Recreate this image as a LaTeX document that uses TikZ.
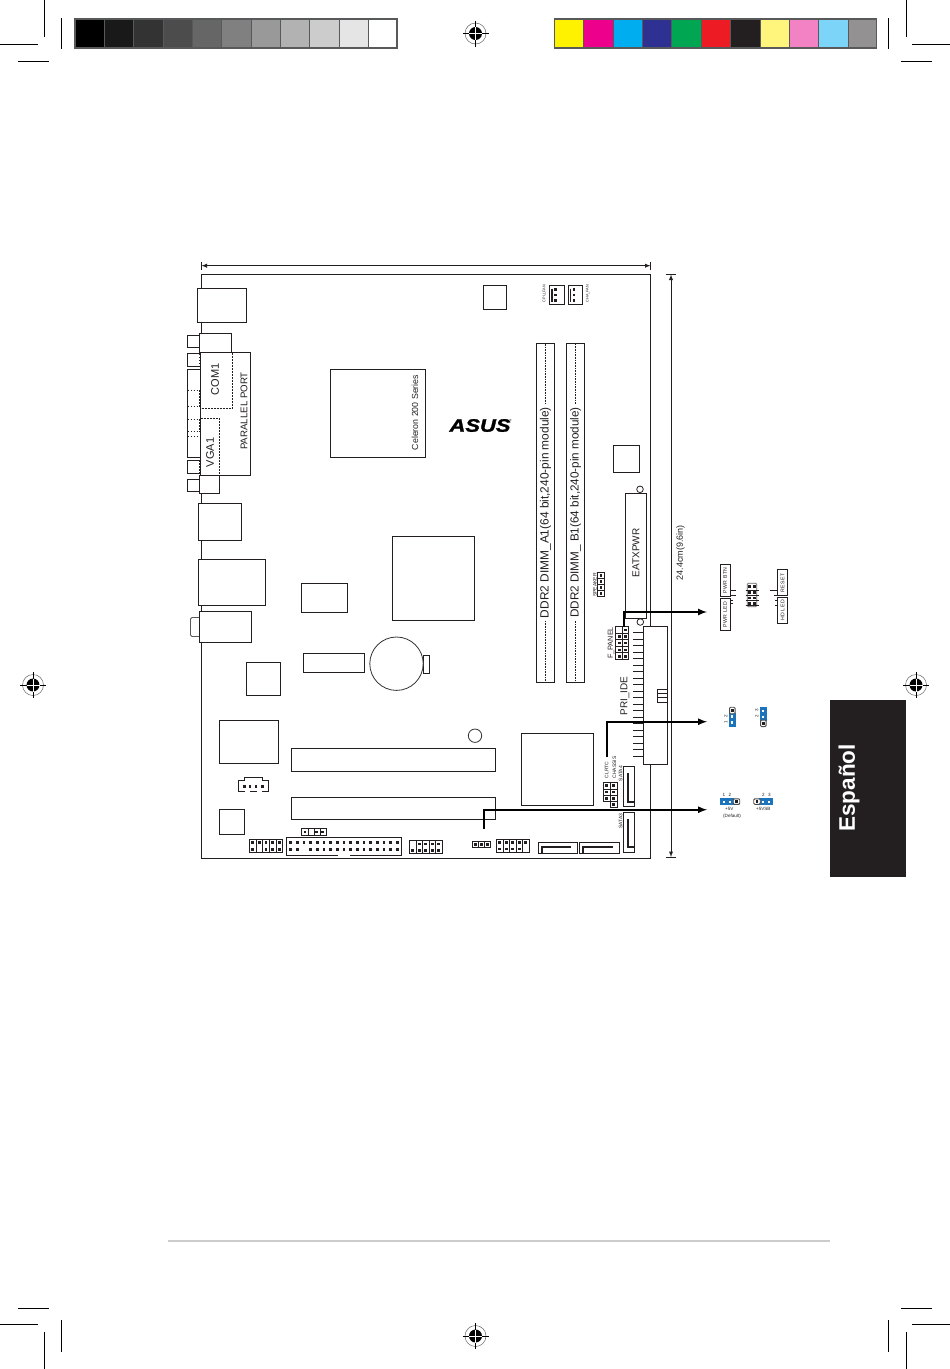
\documentclass[tikz,border=0pt]{standalone}
\usepackage{fontspec}
\setmainfont{Liberation Sans}
\usepackage{xcolor}
\usepackage{tikz}
\usetikzlibrary{arrows}
\usetikzlibrary{calc}

\definecolor{ink}{HTML}{231F20}
\definecolor{jumperblue}{HTML}{1C75BC}
\definecolor{barframe}{HTML}{58595B}

\newcommand{\sz}[1]{\fontsize{#1}{#1}\selectfont}
\newcommand{\pinat}[2]{\fill[ink] (#1-1.4,#2-1.4) rectangle ++(2.8,2.8);}
\newcommand{\wpinat}[2]{\fill[white] (#1-1.1,#2-1.1) rectangle ++(2.2,2.2);}

\begin{document}
\begin{tikzpicture}[x=1pt,y=-1pt,color=ink]
    \tikzstyle{every path}=[line width=1pt]
    \tikzstyle{chip}=[draw=ink,fill=white,line width=1pt,inner sep=0,outer sep=0]
    \tikzstyle{boardtext}=[inner sep=0,outer sep=0,rotate=90,text=ink]
    \tikzstyle{flat}=[inner sep=0,outer sep=0,text=ink]
    \tikzstyle{dashpart}=[line width=0.8pt,dash pattern=on 1.6pt off 1.4pt]
    \tikzstyle{dotline}=[line width=0.6pt,dash pattern=on 1pt off 0.6pt]
    \tikzstyle{leader}=[-latex,line width=2pt,black]
    \tikzstyle{dimline}=[latex-latex,line width=0.9pt]
    \tikzstyle{jumper}=[fill=jumperblue,inner sep=0,outer sep=0]
    \tikzstyle{openpin}=[draw=black!70,fill=white,line width=0.9pt,rounded corners=1pt,inner sep=0,outer sep=0,minimum width=5.5pt,minimum height=6.5pt]

   \useasboundingbox (0,0) rectangle (950,1369);

   \foreach \sx/\shade in {0/0,1/10,2/20,3/30,4/40,5/50,6/60,7/70,8/80,9/90,10/100}
     \fill[white!\shade!black] (75+\sx*29.36,19) rectangle ++(29.36,29);
   \draw[barframe,line width=1.8pt] (75,19) rectangle (397,48);
   \foreach \sx/\shade in {0/FFF200,1/EC008C,2/00AEEF,3/2E3192,4/00A651,5/ED1C24,6/231F20,7/FFF57C,8/F282C4,9/7DD4F9,10/939191} {
     \definecolor{swatchcol}{HTML}{\shade}
     \fill[swatchcol] (554.5+\sx*29.36,19) rectangle ++(29.36,29);
   }
   \draw[barframe,line width=1.8pt] (554.5,19) rectangle (876.5,48);
   \foreach \sx in {1,...,10} {
     \draw[barframe,line width=0.9pt] (75+\sx*29.36,19) -- ++(0,29);
     \draw[barframe,line width=0.9pt] (554.5+\sx*29.36,19) -- ++(0,29);
   }

   \foreach \cx/\cy/\cl in {44.5/0/37,61.5/18/31,888.5/18/31,906/0/37,44.5/1332/37,61.5/1320/32,888.5/1320/32,906/1332/37}
     \draw[black,line width=0.8pt] (\cx,\cy) -- ++(0,\cl);
   \foreach \cx/\cy/\cl in {0/44/37.5,17.5/61.3/31,912/44/38,901/61.3/31,17.5/1308.3/31,0/1324.3/37.5,901/1308.3/31,912/1324.3/38}
     \draw[black,line width=0.8pt] (\cx,\cy) -- ++(\cl,0);

   \foreach \mx/\my in {475.5/33.5,475.5/1336,33/685,916/685} {
     \draw[black!60,line width=0.5pt] (\mx,\my) circle (10.5);
     \fill[black] (\mx,\my) circle (6.5);
     \draw[black,line width=0.6pt] (\mx-13,\my) -- (\mx+13,\my) (\mx,\my-13) -- (\mx,\my+13);
     \draw[white,line width=0.8pt] (\mx-6.5,\my) -- (\mx+6.5,\my) (\mx,\my-6.5) -- (\mx,\my+6.5);
   }

   \node[fill=ink,inner sep=0,outer sep=0,minimum width=76pt,minimum height=177pt] (tabside) at (868,788.5) {};
   \node[rotate=90,inner sep=0,text=white,font=\sz{22.5}\bfseries] (tabtext) at (849,788) {Español};
   \draw[black!20,line width=1.8pt] (168,1241) -- (830,1241);

   \node[draw=ink,line width=1pt,inner sep=0,outer sep=0,minimum width=449pt,minimum height=584pt] (board) at (426,566.5) {};

   \node[chip,minimum width=12pt,minimum height=12pt] (tabup) at (193.5,341.5) {};
   \node[chip,minimum width=12pt,minimum height=12pt] (tabdown) at (193.5,485.5) {};
   \draw (200,353.5) -- (187.5,353.5) -- (187.5,366) -- (200,366);
   \draw (200,369.5) -- (187.5,369.5) -- (187.5,457.5) -- (200,457.5);
   \draw (200,460) -- (187.5,460) -- (187.5,473.5) -- (200,473.5);
   \foreach \dy in {390,406.5,419,431.5,436}
     \draw[dashpart] (187.5,\dy) -- (199,\dy);
   \draw[dashpart] (199,353.5) -- (199,366);
   \draw[dashpart] (199,390) -- (199,406.5);
   \draw[dashpart] (199,419) -- (199,431.5);
   \draw[dashpart] (199,460) -- (199,473.5);

   \node[chip,minimum width=49pt,minimum height=34pt] (ps2) at (222,305.5) {};
   \node[chip,minimum width=32pt,minimum height=19pt] (comcap) at (215.5,343) {};
   \node[chip,minimum width=50pt,minimum height=123pt] (parallel) at (225.5,414) {};
   \node[chip,minimum width=20pt,minimum height=18pt] (vgacap) at (209.5,484.5) {};
   \node[chip,minimum width=43pt,minimum height=37pt] (usb) at (220,522) {};
   \node[chip,minimum width=67pt,minimum height=46pt] (lan) at (232,582.5) {};
   \node[draw=black!65,fill=white,line width=0.9pt,rounded corners=1.5pt,inner sep=0,outer sep=0,minimum width=10pt,minimum height=19pt] (audiotab) at (195.5,627) {};
   \node[chip,minimum width=52pt,minimum height=31pt] (audio) at (225.5,627) {};

   \draw[dashpart] (232.5,353) -- (232.5,408.5) -- (201,408.5);
   \draw[dashpart] (201,418.5) -- (219.5,418.5) -- (219.5,475);
   \node[boardtext,font=\sz{11}] (comlab) at (215,379.5) {COM1};
   \node[boardtext,font=\sz{9.7}] (parlab) at (244,411) {PARALLEL PORT};
   \node[boardtext,font=\sz{11}] (vgalab) at (210,452.5) {VGA1};

   \node[chip,minimum width=95pt,minimum height=88pt] (cpu) at (378,413.5) {};
   \node[boardtext,font=\sz{8.8}] (cpulab) at (415,412.5) {Celeron 200 Series};
   \node[chip,minimum width=82pt,minimum height=84.5pt] (northbridge) at (433.5,578.25) {};
   \node[chip,minimum width=46pt,minimum height=29pt] (chipa) at (324.5,598) {};
   \node[chip,minimum width=61pt,minimum height=19pt] (chipb) at (334,663) {};
   \node[chip,minimum width=6pt,minimum height=18pt] (battab) at (426.5,664.5) {};
   \node[circle,draw=black!80,fill=white,line width=0.8pt,inner sep=0,outer sep=0,minimum size=53.4pt] (battery) at (396.5,663.7) {};
   \node[chip,minimum width=34pt,minimum height=33pt] (chipc) at (263.5,679) {};
   \node[chip,minimum width=59pt,minimum height=43pt] (chipd) at (249,742) {};
   \node[chip,minimum width=204pt,minimum height=23pt] (pcione) at (393.5,760) {};
   \node[chip,minimum width=204pt,minimum height=22pt] (pcitwo) at (393.5,808.5) {};
   \node[chip,minimum width=25pt,minimum height=25pt] (chipe) at (232,822) {};
   \node[chip,minimum width=23pt,minimum height=24pt] (chipf) at (494.8,297.7) {};
   \node[chip,minimum width=25.7pt,minimum height=27.4pt] (chipg) at (626.8,459) {};
   \node[chip,minimum width=72pt,minimum height=72pt] (southbridge) at (557.5,769.5) {};
   \node[circle,draw=black!80,line width=0.8pt,inner sep=0,outer sep=0,minimum size=13.4pt] (hole) at (475,735.7) {};

   \node[inner sep=0,outer sep=0,text=black] (asus) at (480,425.5) {\scalebox{1.22}[1]{\sz{18}\bfseries\itshape\addfontfeature{FakeBold=1.5}ASUS}};
   \node[inner sep=0,outer sep=0,text=black,font=\sz{3}] (asusmark) at (510.5,420.5) {®};

   \draw (238.5,791.5) -- (238.5,780.7) -- (244,780.7) -- (244,777.5) -- (262.7,777.5) -- (262.7,780.7) -- (268.5,780.7) -- (268.5,791.5) -- (261.5,791.5);
   \draw (238.5,791.5) -- (244.5,791.5) (250,791.5) -- (257,791.5);
   \foreach \px in {244.3,250,256,262.3} {
     \pinat{\px}{786.3}
   }

   \node[chip,minimum width=25.4pt,minimum height=6.8pt] (jpa) at (314,832) {};
   \foreach \dx in {308.3,314,320}
     \draw[line width=0.8pt] (\dx,828.5) -- (\dx,835.5);
   \foreach \px in {305,316.8,322.5} {
     \pinat{\px}{832}
   }

   \node[chip,minimum width=33pt,minimum height=13pt] (hdra) at (266,846) {};
   \foreach \dx in {1,...,4}
     \draw[line width=0.8pt] (249.5+\dx*6.6,839.5) -- ++(0,13);
   \foreach \px in {0,...,4} {
     \pinat{252.8+\px*6.6}{842.7}
   }
   \foreach \px in {0,2,3,4} {
     \pinat{252.8+\px*6.6}{849.3}
   }

   \node[chip,minimum width=115.2pt,minimum height=18pt] (floppy) at (344.1,846.5) {};
   \draw[white,line width=1.6pt] (338.2,855.5) -- (349.8,855.5);
   \foreach \px in {0,...,16} {
     \pinat{290.7+\px*6.67}{842.7}
   }
   \foreach \px in {0,1,3,4,5,6,7,8,9,10,11,12,13,14,15,16} {
     \pinat{290.7+\px*6.67}{849.7}
   }

   \node[chip,minimum width=32.5pt,minimum height=13pt] (hdrb) at (425.75,847) {};
   \foreach \dx in {1,...,4}
     \draw[line width=0.8pt] (409.5+\dx*6.5,840.5) -- ++(0,13);
   \foreach \px in {1,...,4} {
     \pinat{412.75+\px*6.5}{844}
   }
   \foreach \px in {0,...,4} {
     \pinat{412.75+\px*6.5}{850.5}
   }

   \node[chip,minimum width=18.4pt,minimum height=6pt] (jpb) at (481.5,844.7) {};
   \foreach \dx in {478.6,484.4}
     \draw[line width=0.8pt] (\dx,841.7) -- (\dx,847.7);
   \foreach \px in {475.7,481.5,487.3} {
     \pinat{\px}{844.7}
   }

   \node[chip,minimum width=32.5pt,minimum height=13.5pt] (hdrc) at (512.75,845.75) {};
   \foreach \dx in {1,...,4}
     \draw[line width=0.8pt] (496.5+\dx*6.5,839) -- ++(0,13.5);
   \foreach \px in {0,...,4} {
     \pinat{499.75+\px*6.5}{842.5}
   }
   \foreach \px in {0,...,3} {
     \pinat{499.75+\px*6.5}{849}
   }

   \node[chip,minimum width=39pt,minimum height=11.2pt] (sataone) at (558,848) {};
   \draw[line width=2.2pt] (542.3,853) -- (542.3,847.3) -- (570.7,847.3);
   \node[chip,minimum width=40pt,minimum height=11.2pt] (satatwo) at (599.5,848) {};
   \draw[line width=2.2pt] (583.3,853) -- (583.3,847.3) -- (612.7,847.3);
   \node[chip,minimum width=11.2pt,minimum height=40pt] (satathree) at (629,832.5) {};
   \draw[line width=2.2pt] (627.7,819.3) -- (627.7,846.7) -- (634,846.7);
   \node[chip,minimum width=11.2pt,minimum height=40.5pt] (satafour) at (629,786.25) {};
   \draw[line width=2.2pt] (627.7,773.3) -- (627.7,801.7) -- (634,801.7);
   \node[boardtext,font=\sz{5}] (satafourlab) at (620.7,773.5) {SATA4};
   \node[boardtext,font=\sz{5}] (satathreelab) at (620.7,821) {SATA3};

   \node[chip,minimum width=13.5pt,minimum height=18.6pt] (clrtc) at (610.25,792) {};
   \node[chip,minimum width=6.7pt,minimum height=6.2pt] (chassis) at (613.65,804.4) {};
   \draw[line width=0.8pt] (610.3,782.7) -- (610.3,801.3) (603.5,788.9) -- (617,788.9) (603.5,795.1) -- (617,795.1);
   \foreach \px/\py in {606.8/785.8,606.8/792,606.8/798.2,613.5/785.8,613.5/792,613.5/798.2,613.5/804.5} {
     \pinat{\px}{\py}
   }
   \node[boardtext,font=\sz{5}] (clrtclab) at (606.7,770) {CLRTC};
   \node[boardtext,font=\sz{5}] (chassislab) at (614.3,767.5) {CHASSIS};

   \node[chip,minimum width=18pt,minimum height=339pt] (dimma) at (545.5,513) {};
   \node[chip,minimum width=18pt,minimum height=339pt] (dimmb) at (575.5,513) {};
   \node[boardtext,font=\sz{11.9}] (dimmalab) at (545.5,512.5) {DDR2 DIMM\_A1(64 bit,240-pin module)};
   \node[boardtext,font=\sz{11.7}] (dimmblab) at (575.5,512.5) {DDR2 DIMM\_ B1(64 bit,240-pin module)};
   \draw[dotline] ($(dimmalab.east)+(0,-3)$) -- (dimmalab.east |- dimma.north);
   \draw[dotline] ($(dimmalab.west)+(0,3)$) -- (dimmalab.west |- dimma.south);
   \draw[dotline] ($(dimmblab.east)+(0,-3)$) -- (dimmblab.east |- dimmb.north);
   \draw[dotline] ($(dimmblab.west)+(0,3)$) -- (dimmblab.west |- dimmb.south);

   \node[chip,minimum width=14.7pt,minimum height=18.6pt] (cpufan) at (557.3,295) {};
   \draw[line width=1.6pt] (552,288.5) -- (552,301.5);
   \node[chip,minimum width=14.7pt,minimum height=18.6pt] (chafan) at (575.5,295) {};
   \draw[line width=1.6pt] (570.5,288.5) -- (570.5,301.5);
   \foreach \py in {289.5,295,300.3} {
     \pinat{555.7}{\py}
     \pinat{574}{\py}
   }
   \node[boardtext,font=\sz{3.8}] (cpufanlab) at (544.5,293.5) {CPU\_FAN};
   \node[boardtext,font=\sz{3.8}] (chafanlab) at (587.7,293.5) {CHA\_FAN};

   \node[chip,minimum width=7.4pt,minimum height=24pt] (speaker) at (601,584.7) {};
   \foreach \py in {0,1,2,3} {
     \pinat{601}{575.7+\py*6}
   }
   \foreach \py in {1,2,3}
     \draw[line width=0.8pt] (597.3,572.7+\py*6) -- ++(7.4,0);
   \node[boardtext,font=\sz{5}] (speakerlab) at (595,585) {SPEAKER};

   \node[chip,minimum width=21pt,minimum height=125pt] (eatx) at (636,556) {};
   \node[boardtext,font=\sz{10}] (eatxlab) at (636,553) {EATXPWR};
   \node[circle,draw=ink,line width=0.8pt,inner sep=0,outer sep=0,minimum size=6.6pt] (holea) at (640,489.3) {};
   \node[circle,draw=ink,line width=0.8pt,inner sep=0,outer sep=0,minimum size=6.6pt] (holeb) at (640.3,622) {};

   \node[chip,minimum width=24pt,minimum height=138pt] (ide) at (655.5,695.5) {};
   \foreach \py in {0,...,19}
     \draw (633.3,632.7+\py*6.5) -- (643.5,632.7+\py*6.5);
   \draw (657.3,689) rectangle (667.5,702);
   \draw[line width=0.8pt] (657.3,693.3) -- (667.5,693.3) (657.3,697.5) -- (667.5,697.5);
   \node[boardtext,font=\sz{10}] (idelab) at (625,696) {PRI\_IDE};

   \node[chip,minimum width=12.8pt,minimum height=32.4pt] (fpanel) at (622,643) {};
   \foreach \py in {1,2,3,4}
     \draw[line width=0.8pt] (615.6,626.8+\py*6.5) -- ++(12.8,0);
   \draw[line width=0.8pt] (622,626.8) -- (622,659.2);
   \pinat{625.6}{630}
   \foreach \py in {636.3,643,650,656.5} {
     \pinat{619.2}{\py}
     \pinat{625.6}{\py}
   }
   \node[boardtext,font=\sz{7.3}] (fpanellab) at (611,643) {F\_PANEL};

   \coordinate (dimwest) at (201.5,265.7);
   \coordinate (dimeast) at (650.5,265.7);
   \coordinate (dimnorth) at (671,274.5);
   \coordinate (dimsouth) at (671,857);
   \draw[dimline] (dimwest) -- (dimeast);
   \draw[dimline] (dimnorth) -- (dimsouth);
   \draw (dimwest) ++(0,-4) -- ++(0,8);
   \draw (dimeast) ++(0,-4) -- ++(0,8);
   \draw (dimnorth) ++(-5,0) -- ++(10,0);
   \draw (dimsouth) ++(-5,0) -- ++(10,0);
   \node[boardtext,font=\sz{9}] (dimlab) at (680.5,552.5) {24.4cm(9.6in)};

   \node[rotate=90,draw=ink,line width=1pt,inner sep=0,outer sep=0,text=ink,minimum width=32.4pt,minimum height=10.2pt,font=\sz{5.2}] (pwrbtn) at (725.2,580.5) {\addfontfeature{LetterSpace=8}PWR BTN};
   \node[rotate=90,draw=ink,line width=1pt,inner sep=0,outer sep=0,text=ink,minimum width=32.4pt,minimum height=10.2pt,font=\sz{5.2}] (pwrled) at (725.2,614.7) {\addfontfeature{LetterSpace=8}PWR LED};
   \node[rotate=90,draw=ink,line width=1pt,inner sep=0,outer sep=0,text=ink,minimum width=25.7pt,minimum height=10.2pt,font=\sz{5.2}] (resetbox) at (782.5,582.8) {\addfontfeature{LetterSpace=8}RESET};
   \node[rotate=90,draw=ink,line width=1pt,inner sep=0,outer sep=0,text=ink,minimum width=25.7pt,minimum height=10.2pt,font=\sz{5.2}] (hdled) at (782.5,610.5) {\addfontfeature{LetterSpace=8}HD LED};
   \node[draw=black!60,line width=0.8pt,rounded corners=1pt,inner sep=0,outer sep=0,minimum width=9.4pt,minimum height=23.4pt] (fpins) at (752,595) {};
   \foreach \py in {586.7,592.5,598,603.5} {
     \pinat{749.7}{\py}
     \pinat{754.5}{\py}
   }
   \foreach \py in {590,595,600,605.5}
     \draw[line width=0.8pt] (745.5,\py) -- (758.5,\py);
   \draw[line width=0.8pt] (730.3,590) -- (736,590) (730.3,595) -- (736,595) (730.3,600) -- (733.3,600) (730.3,603) -- (733.3,603);
   \draw[line width=0.8pt] (769.5,590) -- (777.4,590) (774,595) -- (777.4,595) (775,600) -- (777.4,600) (775,605) -- (777.4,605);

   \node[jumper,minimum width=6.7pt,minimum height=13.4pt] (jmpa) at (732.3,720) {};
   \node[openpin] (jmpaopen) at (732.3,710.5) {};
   \pinat{732.3}{710.5}
   \foreach \py in {716.5,722.5} {\wpinat{732.3}{\py}}
   \node[boardtext,font=\sz{4.6}] (jmpatwo) at (725.7,716.7) {2};
   \node[boardtext,font=\sz{4.6}] (jmpaone) at (725.7,722.7) {1};

   \node[jumper,minimum width=6.7pt,minimum height=13.4pt] (jmpb) at (763.3,714) {};
   \node[openpin] (jmpbopen) at (763.3,723.3) {};
   \pinat{763.3}{723.3}
   \foreach \py in {711,717} {\wpinat{763.3}{\py}}
   \node[boardtext,font=\sz{4.6}] (jmpbthree) at (756.7,710.7) {3};
   \node[boardtext,font=\sz{4.6}] (jmpbtwo) at (756.7,716.7) {2};

   \node[jumper,minimum width=14pt,minimum height=6.7pt] (jmpc) at (727,801.6) {};
   \node[openpin,minimum width=6.5pt,minimum height=5.5pt] (jmpcopen) at (736.5,801.6) {};
   \pinat{736.5}{801.6}
   \foreach \px in {724,730} {\wpinat{\px}{801.6}}
   \node[flat,font=\sz{4.6}] (jmpcone) at (724,795.2) {1};
   \node[flat,font=\sz{4.6}] (jmpctwo) at (730,795.2) {2};
   \node[flat,font=\sz{4.6}] (jmpcvolt) at (729.3,809.3) {+5V};
   \node[flat,font=\sz{4.6}] (jmpcnote) at (732,816) {(Default)};

   \node[jumper,minimum width=13.4pt,minimum height=6.7pt] (jmpd) at (766,801.6) {};
   \node[openpin,minimum width=6.5pt,minimum height=5.5pt] (jmpdopen) at (757,801.6) {};
   \pinat{757}{801.6}
   \foreach \px in {763.3,769.3} {\wpinat{\px}{801.6}}
   \node[flat,font=\sz{4.6}] (jmpdtwo) at (763.3,795.2) {2};
   \node[flat,font=\sz{4.6}] (jmpdthree) at (769.3,795.2) {3};
   \node[flat,font=\sz{4.6}] (jmpdvolt) at (763.3,809.3) {+5VSB};

   \coordinate (leadpanel) at (623.7,627);
   \coordinate (tippanel) at (707,612);
   \coordinate (leadclear) at (607,756.7);
   \coordinate (tipclear) at (707,721.7);
   \coordinate (leadusb) at (483.7,829);
   \coordinate (tipusb) at (707,809.7);
   \draw[leader] (leadpanel) |- (tippanel);
   \draw[leader] (leadclear) |- (tipclear);
   \draw[leader] (leadusb) |- (tipusb);

  \end{tikzpicture}
\end{document}
